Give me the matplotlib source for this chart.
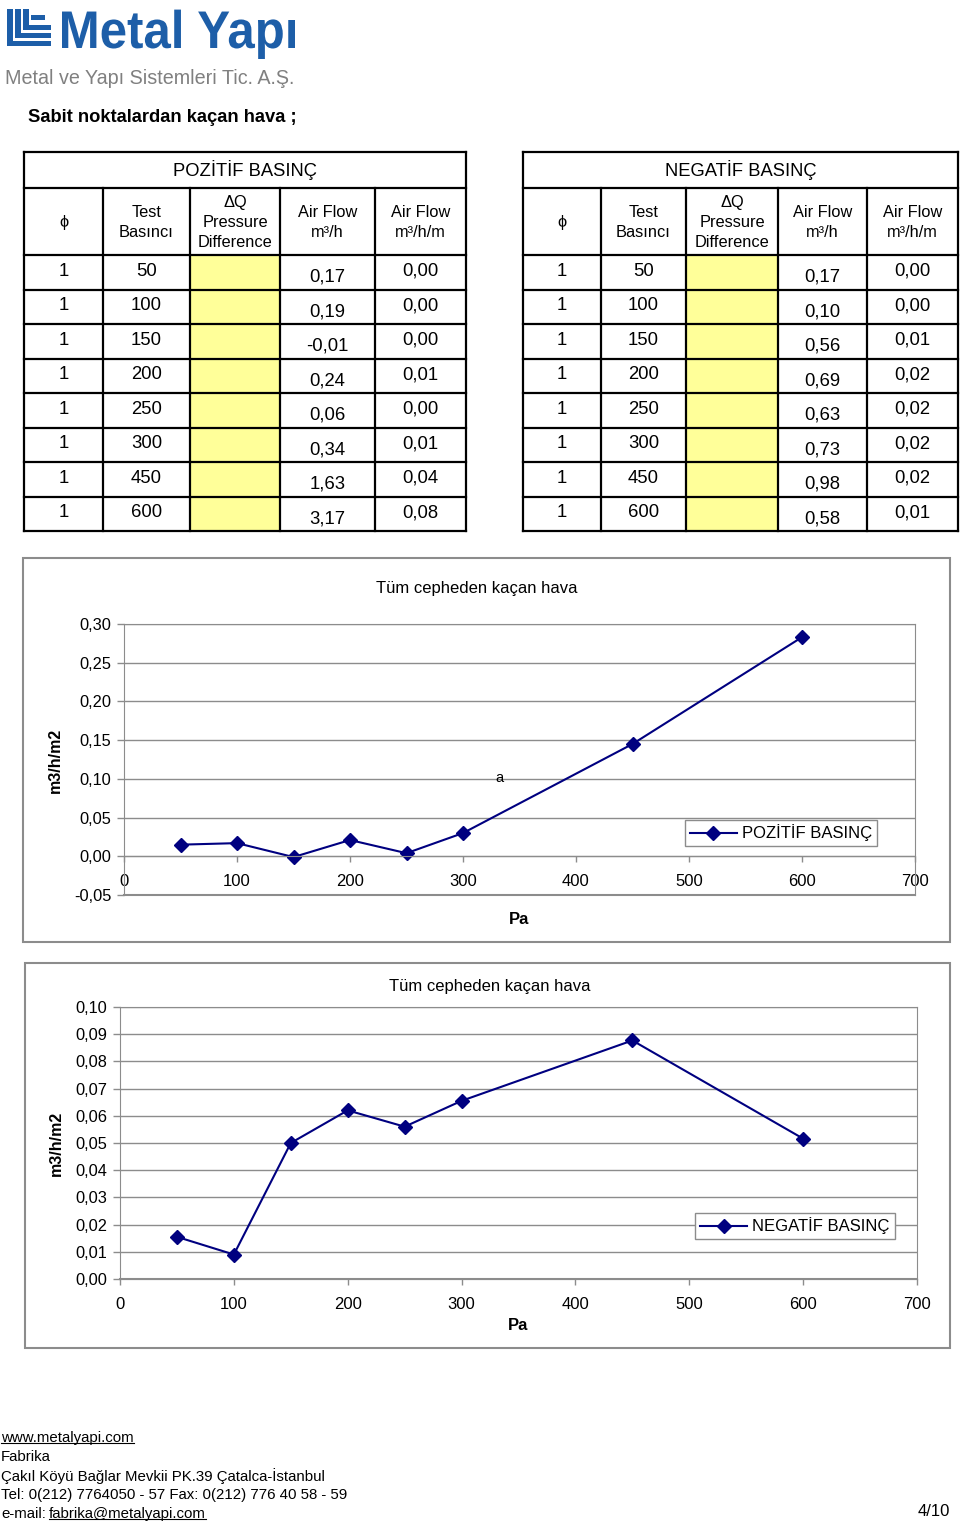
import matplotlib
matplotlib.use("Agg")
import matplotlib.pyplot as plt
from matplotlib.patches import Rectangle, PathPatch
from matplotlib.textpath import TextPath
from matplotlib.font_manager import FontProperties
from matplotlib.transforms import Affine2D
from matplotlib.ticker import FuncFormatter
from matplotlib.lines import Line2D

plt.rcParams['font.family'] = ['Liberation Sans', 'DejaVu Sans']

# data
phi_vals = [1, 1, 1, 1, 1, 1, 1, 1]
pressures = [50, 100, 150, 200, 250, 300, 450, 600]
poz_m3h = [0.17, 0.19, -0.01, 0.24, 0.06, 0.34, 1.63, 3.17]
poz_m3hm = [0.00, 0.00, 0.00, 0.01, 0.00, 0.01, 0.04, 0.08]
neg_m3h = [0.17, 0.10, 0.56, 0.69, 0.63, 0.73, 0.98, 0.58]
neg_m3hm = [0.00, 0.00, 0.01, 0.02, 0.02, 0.02, 0.02, 0.01]
poz_m3hm2 = [0.015, 0.017, -0.001, 0.021, 0.004, 0.030, 0.145, 0.283]
neg_m3hm2 = [0.0155, 0.009, 0.050, 0.062, 0.056, 0.0655, 0.0877, 0.0516]
x_ticks = [0, 100, 200, 300, 400, 500, 600, 700]
poz_yticks = [-0.05, 0.00, 0.05, 0.10, 0.15, 0.20, 0.25, 0.30]
neg_yticks = [0.00, 0.01, 0.02, 0.03, 0.04, 0.05, 0.06, 0.07, 0.08, 0.09, 0.10]
col_heads = ["ϕ", "Test\nBasıncı", "ΔQ\nPressure\nDifference", "Air Flow\nm³/h", "Air Flow\nm³/h/m"]

W, H = 960, 1526
fig = plt.figure(figsize=(W / 100, H / 100), dpi=100)

# background axes in pixel coords (y down)
bg = fig.add_axes([0, 0, 1, 1])
bg.set_xlim(0, W)
bg.set_ylim(H, 0)
bg.axis('off')


def px_rect(l, t, r, b):
    return [l / W, 1 - b / H, (r - l) / W, (b - t) / H]


def comma(v, n=2):
    s = f"{v:.{n}f}".replace('.', ',')
    return "0,00" if s == "-0,00" else s


# logo
blue = '#1d5ea8'
for x0, bot in [(7, 46), (15, 38), (23, 30)]:
    bg.add_patch(Rectangle((x0, 9), 6, bot - 9, color=blue, lw=0))
    bg.add_patch(Rectangle((x0, bot - 5), 51 - x0, 5, color=blue, lw=0))
bg.add_patch(Rectangle((31, 15), 14, 5, color=blue, lw=0))

tp = TextPath((0, 0), "Metal Yapı", size=53, prop=FontProperties(family='Liberation Sans', weight='bold'))
ext = tp.get_extents()
sx = 233 / ext.width
logo_tr = Affine2D().translate(-ext.x0, 0).scale(sx, -1).translate(62, 48) + bg.transData
bg.add_patch(PathPatch(tp, transform=logo_tr, color=blue, lw=0))

bg.text(5, 79, "Metal ve Yapı Sistemleri Tic. A.Ş.", fontsize=14.2, color='#808080', va='center', ha='left')
bg.text(28, 117, "Sabit noktalardan kaçan hava ;", fontsize=13.2, fontweight='bold', va='center', ha='left')


# tables
def draw_table(xs, title, m3h, m3hm):
    top, y_t, y_h, bot = 152, 188, 255, 531
    rh = (bot - y_h) / len(pressures)
    bg.add_patch(Rectangle((xs[2], y_h), xs[3] - xs[2], bot - y_h, color='#ffff99', lw=0))
    lw = 1.6
    bg.plot([xs[0], xs[-1]], [top, top], color='k', lw=lw)
    bg.plot([xs[0], xs[-1]], [y_t, y_t], color='k', lw=lw)
    bg.plot([xs[0], xs[-1]], [y_h, y_h], color='k', lw=lw)
    for i in range(1, len(pressures) + 1):
        bg.plot([xs[0], xs[-1]], [y_h + i * rh] * 2, color='k', lw=lw)
    bg.plot([xs[0], xs[0]], [top, bot], color='k', lw=lw)
    bg.plot([xs[-1], xs[-1]], [top, bot], color='k', lw=lw)
    for x in xs[1:-1]:
        bg.plot([x, x], [y_t, bot], color='k', lw=lw)
    bg.text((xs[0] + xs[-1]) / 2, (top + y_t) / 2, title, fontsize=13.2, ha='center', va='center')
    for j, s in enumerate(col_heads):
        bg.text((xs[j] + xs[j + 1]) / 2, (y_t + y_h) / 2 + 1, s, fontsize=11.8,
                ha='center', va='center', linespacing=1.4)
    for i in range(len(pressures)):
        yc = y_h + (i + 0.5) * rh
        cx = [(xs[j] + xs[j + 1]) / 2 for j in range(5)]
        bg.text(cx[0], yc - 1, str(phi_vals[i]), fontsize=13.3, ha='center', va='center')
        bg.text(cx[1], yc - 1, str(pressures[i]), fontsize=13.3, ha='center', va='center')
        bg.text(cx[3], yc + 5, comma(m3h[i]), fontsize=13.3, ha='center', va='center')
        bg.text(cx[4], yc - 1, comma(m3hm[i]), fontsize=13.3, ha='center', va='center')


draw_table([24, 103, 190, 280, 375, 466], "POZİTİF BASINÇ", poz_m3h, poz_m3hm)
draw_table([523, 601, 686, 778, 867, 958], "NEGATİF BASINÇ", neg_m3h, neg_m3hm)

# chart frames
bg.add_patch(Rectangle((23, 558), 927, 384, fill=False, edgecolor='#8c8c8c', lw=1.5))
bg.add_patch(Rectangle((25, 963), 925, 385, fill=False, edgecolor='#8c8c8c', lw=1.5))

navy = '#000080'
fmt = FuncFormatter(lambda v, p: comma(v))


def setup_chart(ax, yvals, yticks, label, ylim):
    ax.plot(pressures, yvals, color=navy, marker='D', ms=7, lw=1.5, label=label, clip_on=False)
    ax.set_xlim(0, 700)
    ax.set_ylim(*ylim)
    ax.set_xticks(x_ticks)
    ax.set_yticks(yticks)
    ax.yaxis.set_major_formatter(fmt)
    ax.yaxis.grid(True, color='#8c8c8c', lw=1)
    ax.set_axisbelow(True)
    for s in ax.spines.values():
        s.set_color('#8c8c8c')
    ax.spines['bottom'].set_position(('data', 0))
    ax.tick_params(axis='x', direction='out', length=4, width=1, color='#8c8c8c', labelsize=12, pad=9)
    ax.tick_params(axis='y', direction='out', length=5, width=1, color='#8c8c8c', labelsize=11.8, pad=4)
    ax.axhline(ylim[0], color='#8c8c8c', lw=1.5, clip_on=False)


ax1 = fig.add_axes(px_rect(124, 624, 915, 895))
setup_chart(ax1, poz_m3hm2, poz_yticks, "POZİTİF BASINÇ", (-0.05, 0.30))
ax1.text(332, 0.101, "a", fontsize=10.5, ha='center', va='center')
ax1.legend(loc='center', bbox_to_anchor=(781 / W, 1 - 833 / H), bbox_transform=fig.transFigure,
           fancybox=False, edgecolor='#8c8c8c', framealpha=1, fontsize=12, handlelength=2.8,
           borderpad=0.3, handletextpad=0.3)
bg.text(477, 588, "Tüm cepheden kaçan hava", fontsize=12, ha='center', va='center')
bg.text(55, 760, "m3/h/m2", fontsize=11.5, fontweight='bold', rotation=90, ha='center', va='center')
bg.text(519, 920, "Pa", fontsize=12, fontweight='bold', ha='center', va='center')

ax2 = fig.add_axes(px_rect(120, 1007, 917, 1279))
setup_chart(ax2, neg_m3hm2, neg_yticks, "NEGATİF BASINÇ", (0.0, 0.10))
ax2.legend(loc='center', bbox_to_anchor=(795 / W, 1 - 1226 / H), bbox_transform=fig.transFigure,
           fancybox=False, edgecolor='#8c8c8c', framealpha=1, fontsize=12, handlelength=2.8,
           borderpad=0.3, handletextpad=0.3)
bg.text(490, 986, "Tüm cepheden kaçan hava", fontsize=12, ha='center', va='center')
bg.text(56, 1143, "m3/h/m2", fontsize=11.5, fontweight='bold', rotation=90, ha='center', va='center')
bg.text(518, 1326, "Pa", fontsize=12, fontweight='bold', ha='center', va='center')

# footer
foot = [
    (1, 1438, "www.metalyapi.com", True),
    (1, 1457, "Fabrika", False),
    (1, 1476, "Çakıl Köyü Bağlar Mevkii PK.39 Çatalca-İstanbul", False),
    (1, 1495, "Tel: 0(212) 7764050 - 57 Fax: 0(212) 776 40 58 - 59", False),
    (1, 1514, "e-mail:", False),
    (49, 1514, "fabrika@metalyapi.com", True),
]
texts = []
for x, y, s, ul in foot:
    t = bg.text(x, y, s, fontsize=10.8, ha='left', va='center')
    texts.append((t, ul))
bg.text(950, 1511, "4/10", fontsize=12, ha='right', va='center')

fig.canvas.draw()
r = fig.canvas.get_renderer()
for t, ul in texts:
    if ul:
        bb = t.get_window_extent(r)
        fig.add_artist(Line2D([bb.x0, bb.x1], [bb.y0 + 2, bb.y0 + 2], transform=None, color='k', lw=0.8))

fig.savefig("out.png", dpi=100)
